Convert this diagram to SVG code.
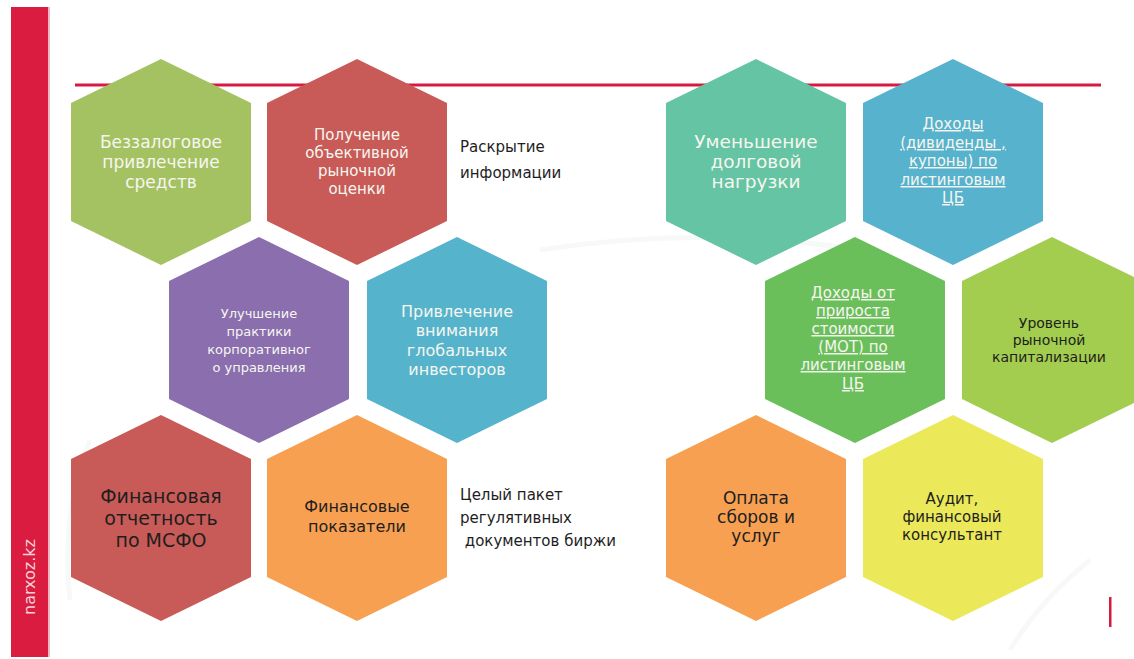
<svg xmlns="http://www.w3.org/2000/svg" xmlns:xlink="http://www.w3.org/1999/xlink" width="1134" height="659" viewBox="0 0 1134 659">
<defs>
<polygon id="hex" points="0,-103 90,-59 90,59 0,103 -90,59 -90,-59"/>
<style>
.t{font-family:"DejaVu Sans","Liberation Sans",sans-serif;text-anchor:middle}
.w{fill:#F6F6F0}
.d{fill:#1E1E1E}
.u{text-decoration:underline}
.side{font-family:"DejaVu Sans","Liberation Sans",sans-serif;fill:#1E1E1E;font-size:15px}
</style>
</defs>
<rect width="1134" height="659" fill="#FFFFFF"/>
<g id="background" fill="none" stroke="#F7F8F8" stroke-width="5">
<path d="M 540 250 Q 700 225 860 250"/>
<path d="M 70 600 Q 60 520 90 440"/>
<path d="M 1010 650 Q 1040 600 1090 560"/>
</g>
<g id="sidebar">
<rect x="11" y="7" width="37" height="650" fill="#D91C3F"/>
<rect x="48" y="7" width="2" height="650" fill="#F0B8C2"/>
<text x="0" y="0" transform="translate(35 577) rotate(-90)" text-anchor="middle" font-family="'DejaVu Sans','Liberation Sans',sans-serif" font-size="16" fill="#F7D2D9">narxoz.kz</text>
</g>
<line id="topline" x1="75" y1="85" x2="1101" y2="85" stroke="#D71A40" stroke-width="3"/>
<rect id="mark" x="1109" y="597" width="2.5" height="30" fill="#D71A40"/>

<g id="n1"><use xlink:href="#hex" transform="translate(161 162)" fill="#A5C262"/>
<text class="t w" font-size="17"><tspan x="161" y="148">Беззалоговое</tspan><tspan x="161" y="168">привлечение</tspan><tspan x="161" y="188">средств</tspan></text></g>

<g id="n2"><use xlink:href="#hex" transform="translate(357 162)" fill="#C85B57"/>
<text class="t w" font-size="15"><tspan x="357" y="140">Получение</tspan><tspan x="357" y="158">объективной</tspan><tspan x="357" y="176">рыночной</tspan><tspan x="357" y="194">оценки</tspan></text></g>

<g id="label1"><text class="side"><tspan x="460" y="152">Раскрытие</tspan><tspan x="460" y="178">информации</tspan></text></g>

<g id="n3"><use xlink:href="#hex" transform="translate(259 340)" fill="#8A6EAE"/>
<text class="t w" font-size="13"><tspan x="259" y="318">Улучшение</tspan><tspan x="259" y="336">практики</tspan><tspan x="259" y="354">корпоративног</tspan><tspan x="259" y="372">о управления</tspan></text></g>

<g id="n4"><use xlink:href="#hex" transform="translate(457 340)" fill="#55B3CB"/>
<text class="t w" font-size="16"><tspan x="457" y="317">Привлечение</tspan><tspan x="457" y="336">внимания</tspan><tspan x="457" y="356">глобальных</tspan><tspan x="457" y="375">инвесторов</tspan></text></g>

<g id="n5"><use xlink:href="#hex" transform="translate(161 518)" fill="#C85B57"/>
<text class="t d" font-size="19"><tspan x="161" y="503">Финансовая</tspan><tspan x="161" y="525">отчетность</tspan><tspan x="161" y="547">по МСФО</tspan></text></g>

<g id="n6"><use xlink:href="#hex" transform="translate(357 518)" fill="#F7A052"/>
<text class="t d" font-size="16"><tspan x="357" y="512">Финансовые</tspan><tspan x="357" y="532">показатели</tspan></text></g>

<g id="label2"><text class="side"><tspan x="460" y="500">Целый пакет</tspan><tspan x="460" y="523">регулятивных</tspan><tspan x="460" y="546"> документов биржи</tspan></text></g>

<g id="n7"><use xlink:href="#hex" transform="translate(756 162)" fill="#65C4A3"/>
<text class="t w" font-size="18.5"><tspan x="756" y="148">Уменьшение</tspan><tspan x="756" y="168">долговой</tspan><tspan x="756" y="188">нагрузки</tspan></text></g>

<g id="n8"><use xlink:href="#hex" transform="translate(953 162)" fill="#56B2CD"/>
<text class="t w u" font-size="15"><tspan x="953" y="129">Доходы</tspan><tspan x="953" y="148">(дивиденды ,</tspan><tspan x="953" y="166">купоны) по</tspan><tspan x="953" y="185">листинговым</tspan><tspan x="953" y="203">ЦБ</tspan></text></g>

<g id="n9"><use xlink:href="#hex" transform="translate(855 340)" fill="#6BBF5B"/>
<text class="t w u" font-size="15"><tspan x="853" y="298">Доходы от</tspan><tspan x="853" y="316">прироста</tspan><tspan x="853" y="334">стоимости</tspan><tspan x="853" y="352">(МОТ) по</tspan><tspan x="853" y="370">листинговым</tspan><tspan x="853" y="389">ЦБ</tspan></text></g>

<g id="n10"><use xlink:href="#hex" transform="translate(1052 340)" fill="#A3CD4F"/>
<text class="t d" font-size="14"><tspan x="1049" y="328">Уровень</tspan><tspan x="1049" y="345">рыночной</tspan><tspan x="1049" y="362">капитализации</tspan></text></g>

<g id="n11"><use xlink:href="#hex" transform="translate(756 518)" fill="#F7A052"/>
<text class="t d" font-size="17"><tspan x="756" y="504">Оплата</tspan><tspan x="756" y="523">сборов и</tspan><tspan x="756" y="542">услуг</tspan></text></g>

<g id="n12"><use xlink:href="#hex" transform="translate(953 518)" fill="#EBE85A"/>
<text class="t d" font-size="15"><tspan x="952" y="504">Аудит,</tspan><tspan x="952" y="522">финансовый</tspan><tspan x="952" y="540">консультант</tspan></text></g>

<g id="connectors"/>
</svg>
